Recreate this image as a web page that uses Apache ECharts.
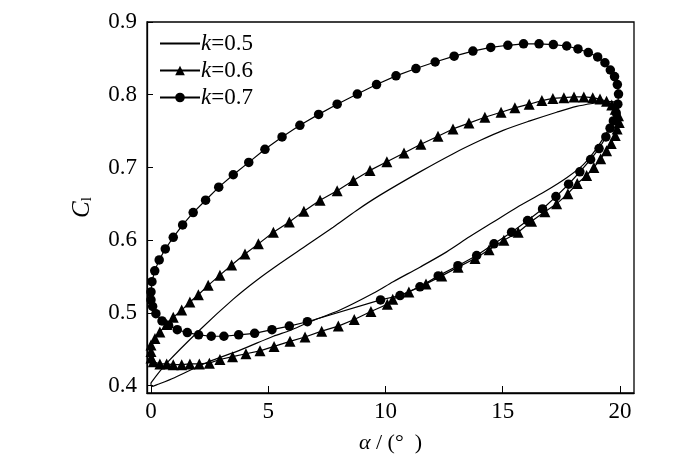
<!DOCTYPE html>
<html>
<head>
<meta charset="utf-8">
<script src="https://cdn.jsdelivr.net/npm/echarts@6/dist/echarts.min.js"></script>
<style>
html,body{margin:0;padding:0;background:#fff;}
#chart{width:700px;height:466px;}
</style>
</head>
<body>
<div id="chart"></div>
<script>
// ---- data ----
var seriesNames = ['k=0.5', 'k=0.6', 'k=0.7'];
var xTicks = [0, 5, 10, 15, 20];
var yTicks = [0.4, 0.5, 0.6, 0.7, 0.8, 0.9];

// k = 0.5 (plain line)
var k05Alpha = [0.00,0.67,2.09,3.51,4.51,5.50,6.64,7.77,8.77,9.77,11.47,12.89,14.03,15.02,16.16,17.30,18.15,19.01,19.43,19.80,19.95,
  19.92,19.75,19.43,19.00,18.44,17.73,16.80,15.60,14.60,13.60,12.61,11.47,10.33,9.48,8.06,6.71,5.93,5.22,3.80,2.38,1.00,0.30,0.03,0.00];
var k05Cl = [0.404,0.431,0.477,0.519,0.545,0.568,0.593,0.618,0.641,0.662,0.694,0.719,0.737,0.751,0.764,0.776,0.784,0.789,0.791,0.790,0.786,
  0.779,0.766,0.748,0.726,0.704,0.686,0.667,0.645,0.625,0.605,0.584,0.563,0.543,0.527,0.504,0.487,0.476,0.468,0.449,0.432,0.411,0.402,0.399,0.404];

// k = 0.6 (triangles)
var k06Alpha = [0.00,0.00,0.17,0.38,0.67,0.95,1.31,1.66,2.02,2.44,2.94,3.44,4.01,4.58,5.22,5.90,6.52,7.21,7.94,8.63,9.34,
  10.06,10.79,11.51,12.24,12.88,13.56,14.24,14.93,15.52,16.13,16.67,17.14,17.61,18.04,18.46,18.84,19.15,19.43,19.65,19.80,19.94,
  19.97,19.88,19.80,19.63,19.43,19.18,18.89,18.58,18.18,17.78,17.30,16.80,16.23,15.66,15.05,14.42,13.82,13.10,12.40,11.73,11.00,
  10.31,10.08,9.38,8.67,7.99,7.28,6.57,5.93,5.25,4.65,4.05,3.48,2.94,2.49,2.06,1.66,1.31,0.95,0.67,0.38,0.10,0.00];
var k06Cl = [0.447,0.456,0.465,0.474,0.484,0.494,0.504,0.515,0.525,0.538,0.552,0.566,0.581,0.595,0.611,0.625,0.640,0.655,0.668,0.682,0.696,
  0.708,0.720,0.732,0.743,0.753,0.761,0.769,0.776,0.782,0.787,0.792,0.795,0.796,0.797,0.797,0.796,0.794,0.791,0.786,0.780,0.771,
  0.762,0.753,0.744,0.733,0.723,0.712,0.700,0.689,0.678,0.664,0.650,0.639,0.626,0.611,0.600,0.587,0.575,0.563,0.551,0.540,0.529,
  0.519,0.512,0.502,0.491,0.482,0.475,0.467,0.461,0.454,0.448,0.444,0.440,0.436,0.431,0.430,0.430,0.429,0.429,0.430,0.430,0.433,0.438];

// k = 0.7 (circles)
var k07Alpha = [0.00,0.04,0.16,0.35,0.61,0.95,1.35,1.80,2.33,2.89,3.51,4.17,4.86,5.59,6.35,7.15,7.94,8.80,9.62,10.45,11.30,12.12,
  12.93,13.73,14.49,15.22,15.89,16.55,17.16,17.73,18.21,18.65,19.05,19.36,19.59,19.77,19.89,19.94,
  19.91,19.84,19.72,19.58,19.40,19.11,18.75,18.29,17.81,17.27,16.70,16.06,15.38,14.63,13.89,13.09,12.25,11.47,10.62,9.79,
  6.67,5.90,5.16,4.42,3.74,3.11,2.57,2.03,1.55,1.12,0.75,0.47,0.21,0.07,0.00];
var k07Cl = [0.529,0.543,0.558,0.573,0.588,0.604,0.621,0.638,0.655,0.673,0.690,0.707,0.725,0.742,0.758,0.773,0.787,0.801,0.814,0.826,0.836,0.845,
  0.853,0.860,0.865,0.868,0.870,0.870,0.869,0.867,0.863,0.858,0.852,0.844,0.834,0.825,0.814,0.801,
  0.787,0.775,0.764,0.754,0.742,0.726,0.711,0.694,0.677,0.660,0.643,0.627,0.611,0.595,0.579,0.565,0.551,0.536,0.524,0.518,
  0.488,0.482,0.477,0.472,0.470,0.468,0.468,0.470,0.473,0.477,0.483,0.489,0.499,0.509,0.518];

function pairs(a, c) { return a.map(function (v, i) { return [v, c[i]]; }); }

var serif = 'Liberation Serif';
var chart = echarts.init(document.getElementById('chart'), null, {renderer: 'canvas'});
chart.setOption({
  animation: false,
  backgroundColor: '#fff',
  grid: {left: 147, right: 66, top: 22, bottom: 73, show: true, borderColor: '#000', borderWidth: 1.3, backgroundColor: 'transparent'},
  legend: {
    orient: 'vertical', left: 154, top: 27, itemWidth: 40, itemHeight: 12, itemGap: 4,
    data: [{name: seriesNames[0], itemStyle: {opacity: 0}}, {name: seriesNames[1]}, {name: seriesNames[2]}],
    formatter: function (n) { return '{i|k}' + n.slice(1); },
    textStyle: {fontFamily: serif, fontSize: 23, color: '#000', padding: [0, 0, 0, -4],
      rich: {i: {fontFamily: serif, fontStyle: 'italic', fontSize: 23, color: '#000'}}}
  },
  xAxis: {
    type: 'value', min: -0.17, max: 20.6,
    name: '{i|α} / (°  )', nameLocation: 'middle', nameGap: 39,
    nameTextStyle: {fontFamily: serif, fontSize: 22, color: '#000',
      rich: {i: {fontFamily: serif, fontStyle: 'italic', fontSize: 22, color: '#000'}}},
    axisLine: {onZero: false, lineStyle: {color: '#000', width: 1.3}},
    axisTick: {inside: true, length: 7, lineStyle: {color: '#000'}, customValues: xTicks},
    axisLabel: {customValues: xTicks, fontFamily: serif, fontSize: 23, color: '#000', margin: 7,
      formatter: function (v) { return String(Math.round(v)); }},
    splitLine: {show: false}
  },
  yAxis: {
    type: 'value', min: 0.39, max: 0.9,
    name: '{i|C}{s|l}', nameLocation: 'middle', nameGap: 52, nameRotate: 90,
    nameTextStyle: {fontFamily: serif, fontSize: 25, color: '#000',
      rich: {i: {fontFamily: serif, fontStyle: 'italic', fontSize: 25, color: '#000'},
             s: {fontFamily: serif, fontSize: 15, color: '#000', verticalAlign: 'bottom', padding: [9, 0, 0, 0]}}},
    axisLine: {onZero: false, lineStyle: {color: '#000', width: 1.3}},
    axisTick: {inside: true, length: 6, lineStyle: {color: '#000'}, customValues: yTicks},
    axisLabel: {customValues: yTicks, fontFamily: serif, fontSize: 23, color: '#000', margin: 10,
      formatter: function (v) { return v.toFixed(1); }},
    splitLine: {show: false}
  },
  series: [
    {name: seriesNames[0], type: 'line', data: pairs(k05Alpha, k05Cl), symbol: 'none', smooth: 0.3,
      lineStyle: {color: '#000', width: 1.2}, itemStyle: {color: '#000'}},
    {name: seriesNames[1], type: 'line', data: pairs(k06Alpha, k06Cl), symbol: 'triangle', symbolSize: 11,
      showAllSymbol: true, smooth: false,
      lineStyle: {color: '#000', width: 1.2}, itemStyle: {color: '#000'}},
    {name: seriesNames[2], type: 'line', data: pairs(k07Alpha, k07Cl), symbol: 'circle', symbolSize: 9.5,
      showAllSymbol: true, smooth: false,
      lineStyle: {color: '#000', width: 1.2}, itemStyle: {color: '#000'}}
  ]
});
</script>
</body>
</html>
